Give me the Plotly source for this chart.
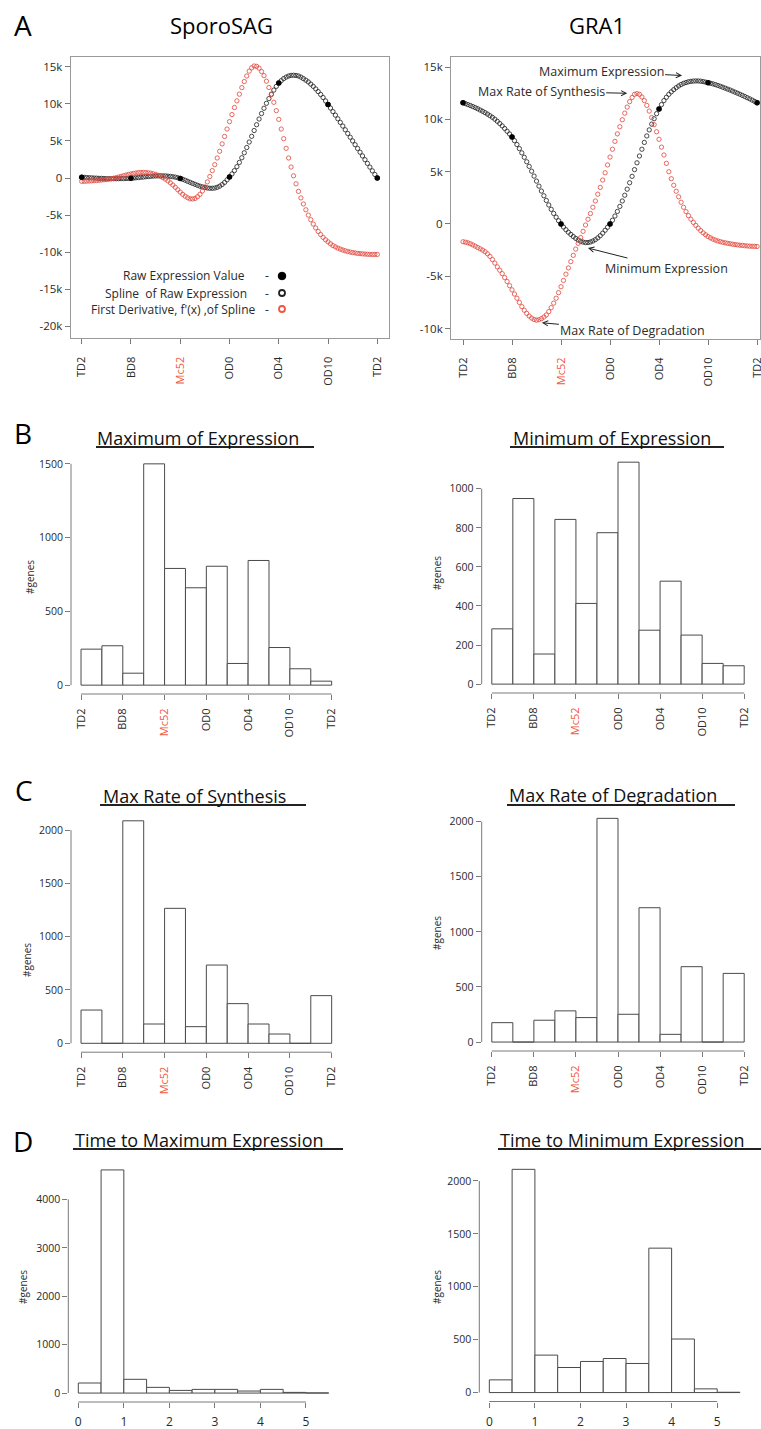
import numpy as np
import plotly.graph_objects as go

W, H = 761, 1429
FONT = "Open Sans"

# ---------------- data ----------------
stage_labels = ["TD2", "BD8", "Mc52", "OD0", "OD4", "OD10", "TD2"]
stage_pos = [0, 1, 2, 3, 4, 5, 6]
spline_t = np.round(np.arange(121) * 0.05, 3)  # sampling grid of the spline (stage units)

sporo_raw_k = [0.10, -0.03, -0.05, 0.15, 12.80, 9.90, 0.00]
sporo_spline_k = [
    0.10, 0.08, 0.06, 0.04, 0.02, 0.00, -0.02, -0.04, -0.05, -0.07,
    -0.08, -0.09, -0.09, -0.09, -0.09, -0.09, -0.08, -0.07, -0.06, -0.05,
    -0.03, 0.00, 0.03, 0.06, 0.10, 0.13, 0.17, 0.20, 0.23, 0.26,
    0.28, 0.29, 0.30, 0.29, 0.28, 0.25, 0.22, 0.17, 0.12, 0.04,
    -0.05, -0.17, -0.30, -0.44, -0.58, -0.72, -0.85, -0.98, -1.10, -1.20,
    -1.28, -1.34, -1.38, -1.38, -1.35, -1.25, -1.10, -0.88, -0.60, -0.25,
    0.15, 0.55, 1.00, 1.53, 2.10, 2.73, 3.40, 4.11, 4.85, 5.62,
    6.40, 7.18, 7.95, 8.69, 9.40, 10.07, 10.70, 11.30, 11.85, 12.35,
    12.80, 13.12, 13.40, 13.60, 13.75, 13.83, 13.85, 13.82, 13.75, 13.60,
    13.40, 13.19, 12.95, 12.66, 12.35, 12.01, 11.65, 11.26, 10.85, 10.39,
    9.90, 9.43, 8.95, 8.47, 7.98, 7.49, 7.00, 6.50, 6.00, 5.50,
    5.00, 4.49, 3.98, 3.48, 2.98, 2.47, 1.97, 1.47, 0.97, 0.48,
    0.00]
sporo_deriv_k = [
    -0.45, -0.44, -0.42, -0.40, -0.38, -0.36, -0.33, -0.30, -0.27, -0.24,
    -0.20, -0.15, -0.10, -0.03, 0.05, 0.13, 0.22, 0.31, 0.40, 0.48,
    0.55, 0.62, 0.68, 0.72, 0.75, 0.75, 0.74, 0.70, 0.65, 0.57,
    0.48, 0.36, 0.22, 0.04, -0.15, -0.39, -0.65, -0.94, -1.25, -1.58,
    -1.90, -2.20, -2.45, -2.66, -2.80, -2.82, -2.75, -2.52, -2.20, -1.75,
    -1.20, -0.52, 0.20, 1.00, 1.80, 2.70, 3.60, 4.60, 5.60, 6.60,
    7.60, 8.55, 9.50, 10.40, 11.30, 12.18, 13.00, 13.75, 14.40, 14.85,
    15.10, 15.05, 14.80, 14.35, 13.80, 13.05, 12.20, 11.25, 10.20, 9.08,
    7.90, 6.60, 5.30, 4.00, 2.70, 1.48, 0.30, -0.78, -1.80, -2.68,
    -3.50, -4.28, -5.00, -5.62, -6.20, -6.72, -7.20, -7.62, -8.00, -8.32,
    -8.60, -8.86, -9.10, -9.28, -9.45, -9.58, -9.70, -9.81, -9.90, -9.98,
    -10.05, -10.10, -10.15, -10.19, -10.22, -10.25, -10.27, -10.29, -10.30, -10.30,
    -10.30]

gra1_raw_k = [11.60, 8.33, 0.00, 0.00, 11.00, 13.52, 11.60]
gra1_spline_k = [
    11.60, 11.51, 11.42, 11.33, 11.23, 11.13, 11.02, 10.90, 10.78, 10.65,
    10.51, 10.36, 10.20, 10.02, 9.82, 9.61, 9.38, 9.13, 8.87, 8.61,
    8.33, 7.97, 7.60, 7.21, 6.80, 6.38, 5.95, 5.51, 5.05, 4.58,
    4.10, 3.62, 3.15, 2.70, 2.25, 1.82, 1.40, 1.01, 0.65, 0.31,
    0.00, -0.29, -0.55, -0.79, -1.00, -1.20, -1.38, -1.53, -1.65, -1.73,
    -1.78, -1.77, -1.72, -1.63, -1.50, -1.33, -1.12, -0.88, -0.60, -0.31,
    0.00, 0.36, 0.76, 1.20, 1.68, 2.20, 2.75, 3.33, 3.94, 4.56,
    5.20, 5.85, 6.50, 7.15, 7.80, 8.42, 9.00, 9.55, 10.07, 10.55,
    11.00, 11.42, 11.80, 12.12, 12.40, 12.64, 12.85, 13.04, 13.20, 13.34,
    13.45, 13.53, 13.60, 13.64, 13.67, 13.68, 13.68, 13.66, 13.62, 13.57,
    13.52, 13.46, 13.40, 13.33, 13.25, 13.17, 13.08, 12.99, 12.90, 12.81,
    12.71, 12.61, 12.51, 12.41, 12.30, 12.19, 12.08, 11.97, 11.85, 11.73,
    11.60]
gra1_deriv_k = [
    -1.70, -1.74, -1.80, -1.89, -2.00, -2.12, -2.25, -2.37, -2.50, -2.65,
    -2.85, -3.10, -3.40, -3.74, -4.10, -4.42, -4.75, -5.12, -5.50, -5.90,
    -6.30, -6.70, -7.10, -7.50, -7.90, -8.25, -8.55, -8.80, -9.00, -9.13,
    -9.20, -9.15, -9.05, -8.90, -8.70, -8.38, -8.00, -7.57, -7.10, -6.57,
    -6.00, -5.40, -4.80, -4.20, -3.60, -3.00, -2.40, -1.85, -1.30, -0.70,
    -0.10, 0.45, 1.00, 1.60, 2.20, 2.85, 3.50, 4.20, 4.90, 5.65,
    6.40, 7.15, 7.90, 8.62, 9.30, 9.97, 10.60, 11.18, 11.70, 12.10,
    12.40, 12.47, 12.40, 12.15, 11.80, 11.34, 10.80, 10.18, 9.50, 8.82,
    8.10, 7.35, 6.60, 5.80, 5.00, 4.33, 3.70, 3.13, 2.60, 2.08,
    1.60, 1.18, 0.80, 0.46, 0.15, -0.13, -0.40, -0.63, -0.85, -1.03,
    -1.20, -1.33, -1.45, -1.54, -1.62, -1.69, -1.75, -1.80, -1.85, -1.89,
    -1.93, -1.97, -2.00, -2.03, -2.05, -2.08, -2.10, -2.12, -2.13, -2.14,
    -2.15]

sporo_yticks = [15, 10, 5, 0, -5, -10, -15, -20]
gra1_yticks = [15, 10, 5, 0, -5, -10]

# histograms over the developmental cycle (12 bins, 2 per stage interval)
max_expr_counts = [244, 267, 81, 1500, 791, 660, 806, 147, 845, 255, 111, 27]
min_expr_counts = [283, 950, 154, 843, 413, 775, 1136, 276, 527, 251, 106, 94]
syn_rate_counts = [312, 0, 2087, 181, 1266, 156, 734, 372, 181, 87, 0, 447]
deg_rate_counts = [176, 0, 198, 283, 222, 2030, 252, 1219, 70, 684, 0, 623]
stage_hist_ticks = [0, 2, 4, 6, 8, 10, 12]

# histograms of time to max / min (bin width 0.5)
time_bin_width = 0.5
time_max_counts = [208, 4609, 284, 118, 55, 76, 76, 42, 76, 14, 3]
time_min_counts = [120, 2110, 354, 237, 294, 322, 275, 1365, 506, 35, 3]
time_ticks = [0, 1, 2, 3, 4, 5]

hist_yticks = {
    "max": [0, 500, 1000, 1500],
    "min": [0, 200, 400, 600, 800, 1000],
    "syn": [0, 500, 1000, 1500, 2000],
    "deg": [0, 500, 1000, 1500, 2000],
    "tmax": [0, 1000, 2000, 3000, 4000],
    "tmin": [0, 500, 1000, 1500, 2000],
}

# ---------------- helpers ----------------
RED = "#f0573c"
SPLINE_RED = "rgba(228,70,60,0.8)"
SPLINE_BLACK = "rgba(40,40,40,0.85)"
AXIS_GREY = "#7a7a7a"
TXT = "#2a2a2a"


def dx(l, r):
    return [l / W, r / W]


def dy(t, b):
    return [1 - b / H, 1 - t / H]


def px(x):
    return x / W


def py(y):
    return 1 - y / H


def label(text, x, y, size, color=TXT, xanchor="center", **kw):
    return dict(text=text, x=px(x), y=py(y), xref="paper", yref="paper", showarrow=False,
                xanchor=xanchor, yanchor="middle", font=dict(size=size, color=color), **kw)


stage_ticktext = [f"<span style='color:{RED}'>{s}</span>" if s == "Mc52" else s
                  for s in stage_labels]

fig = go.Figure()
layout = dict(width=W, height=H, margin=dict(l=0, r=0, t=0, b=0, pad=0),
              paper_bgcolor="white", plot_bgcolor="white", showlegend=False,
              font=dict(family=FONT, color=TXT), template="none")
shapes = []
annotations = []

# ---------------- panel A ----------------
a_panels = [
    ("", sporo_spline_k, sporo_deriv_k, sporo_raw_k, sporo_yticks,
     dx(70.7, 389.3), dy(56.7, 338.3), [-0.224, 6.244], [-21.6, 16.35]),
    ("2", gra1_spline_k, gra1_deriv_k, gra1_raw_k, gra1_yticks,
     dx(451, 760), dy(56.7, 339), [-0.245, 6.06], [-11.0, 16.0]),
]
for suf, spl, der, raw, yt, xd, yd, xr, yr in a_panels:
    xa, ya = "x" + suf, "y" + suf
    fig.add_trace(go.Scatter(x=spline_t, y=spl, mode="markers", xaxis=xa, yaxis=ya,
                             marker=dict(symbol="circle-open", size=4.3, color=SPLINE_BLACK,
                                         line=dict(width=1, color=SPLINE_BLACK))))
    fig.add_trace(go.Scatter(x=spline_t, y=der, mode="markers", xaxis=xa, yaxis=ya,
                             marker=dict(symbol="circle-open", size=4.3, color=SPLINE_RED,
                                         line=dict(width=1, color=SPLINE_RED))))
    fig.add_trace(go.Scatter(x=stage_pos, y=raw, mode="markers", xaxis=xa, yaxis=ya,
                             marker=dict(symbol="circle", size=5.5, color="black")))
    layout["xaxis" + suf] = dict(domain=xd, range=xr, anchor=ya, tickvals=stage_pos,
                                 ticktext=stage_ticktext, tickangle=-90, ticks="outside",
                                 ticklen=5, tickcolor=AXIS_GREY, showline=True, mirror=True,
                                 linecolor="#9a9a9a", linewidth=1, showgrid=False,
                                 zeroline=False, tickfont=dict(size=11, color=TXT),
                                 ticklabelstandoff=8, ticklabeloverflow="allow",
                                 automargin=False)
    layout["yaxis" + suf] = dict(domain=yd, range=yr, anchor=xa, tickvals=yt,
                                 ticktext=[("0" if v == 0 else f"{v}k") for v in yt],
                                 ticks="outside", ticklen=5, tickcolor=AXIS_GREY,
                                 showline=True, mirror=True, linecolor="#9a9a9a",
                                 linewidth=1, showgrid=False, zeroline=False,
                                 tickfont=dict(size=11.5, color=TXT),
                                 ticklabeloverflow="allow", automargin=False)

# titles
annotations += [
    label("A", 23, 25, 28, "black"),
    label("SporoSAG", 221, 25, 22, "black"),
    label("GRA1", 597, 25, 22, "black"),
]

# legend (SporoSAG panel)
legend_rows = [("Raw Expression Value", 247, 276), ("Spline  of Raw Expression", 249, 293),
               ("First Derivative, f'(x) ,of Spline", 258, 309)]
for txt, xr_, yy in legend_rows:
    annotations.append(label(txt, xr_, yy, 12, xanchor="right"))
    annotations.append(label("-", 267, yy, 12))


def circ(cx, cy, r, fill, line, lw):
    return dict(type="circle", xref="paper", yref="paper", x0=px(cx - r), x1=px(cx + r),
                y0=py(cy + r), y1=py(cy - r), fillcolor=fill, line=dict(color=line, width=lw))


shapes += [circ(282, 276, 3.8, "black", "black", 1),
           circ(282, 293, 3.0, "rgba(0,0,0,0)", "#222", 1.8),
           circ(282, 309, 3.0, "rgba(0,0,0,0)", RED, 1.8)]

# GRA1 arrows
arrow_notes = [("Maximum Expression", 4.47, 14.2, -81, -4),
               ("Max Rate of Synthesis", 3.35, 12.5, -86, -2),
               ("Minimum Expression", 2.55, -2.3, 79, 20),
               ("Max Rate of Degradation", 1.61, -9.45, 91, 8)]
for txt, x, y, ax, ay in arrow_notes:
    annotations.append(dict(text=txt, x=x, y=y, xref="x2", yref="y2", ax=ax, ay=ay,
                            showarrow=True, arrowhead=5, arrowsize=1, arrowwidth=1,
                            arrowcolor="#222", font=dict(size=12.5, color=TXT)))

# ---------------- histograms ----------------
hists = [
    (3, max_expr_counts, "max", "Maximum of Expression", (71, 341.7), (455, 694), "stage",
     (198, 438), (96, 314, 447), (30, 577)),
    (4, min_expr_counts, "min", "Minimum of Expression", (481.7, 754.3), (453.3, 693), "stage",
     (612, 438), (510, 724, 447), (437, 573)),
    (5, syn_rate_counts, "syn", "Max Rate of Synthesis", (71, 341.7), (811.9, 1052.2), "stage",
     (194, 796), (100, 306, 805), (27, 960)),
    (6, deg_rate_counts, "deg", "Max Rate of Degradation", (481.7, 754.3), (809.4, 1051), "stage",
     (613, 795), (507, 735, 805), (437, 933)),
    (7, time_max_counts, "tmax", "Time to Maximum Expression", (68.3, 338.7), (1161, 1402), "time",
     (199, 1140), (73, 343, 1149), (23, 1287)),
    (8, time_min_counts, "tmin", "Time to Minimum Expression", (479.3, 750), (1160.4, 1401.5), "time",
     (622, 1140), (498, 761, 1149), (437, 1287)),
]

for idx, counts, key, title, xdp, ydp, kind, tpos, uline, ylab in hists:
    xa, ya = f"x{idx}", f"y{idx}"
    if kind == "stage":
        width = 1.0
        xt, xtt, tang = stage_hist_ticks, stage_ticktext, -90
    else:
        width = time_bin_width
        xt, xtt, tang = time_ticks, [str(v) for v in time_ticks], 0
    centers = np.arange(len(counts)) * width + width / 2
    nb = len(counts) * width
    pad = 0.04 * nb
    m = max(counts)
    fig.add_trace(go.Bar(x=centers, y=counts, width=width, xaxis=xa, yaxis=ya,
                         marker=dict(color="white", line=dict(color="#4a4a4a", width=1))))
    yt = hist_yticks[key]
    layout["xaxis" + str(idx)] = dict(domain=dx(*xdp), range=[-pad, nb + pad], anchor=ya,
                                      tickvals=xt, ticktext=xtt, tickangle=tang,
                                      ticks="outside", ticklen=5, tickcolor=AXIS_GREY,
                                      showline=False, showgrid=False, zeroline=False,
                                      tickfont=dict(size=11 if kind == "stage" else 12, color=TXT),
                                      ticklabelstandoff=4, ticklabeloverflow="allow",
                                      automargin=False)
    layout["yaxis" + str(idx)] = dict(domain=dy(*ydp), range=[-0.04 * m, 1.04 * m], anchor=xa,
                                      tickvals=yt, ticks="outside", ticklen=5,
                                      tickcolor=AXIS_GREY, showline=False, showgrid=False,
                                      zeroline=False, tickfont=dict(size=10.5, color=TXT),
                                      ticklabeloverflow="allow", automargin=False)
    shapes.append(dict(type="line", xref=f"{xa} domain", yref=ya, x0=0, x1=0,
                       y0=yt[0], y1=yt[-1], line=dict(color=AXIS_GREY, width=1)))
    shapes.append(dict(type="line", xref=xa, yref=f"{ya} domain", x0=xt[0], x1=xt[-1],
                       y0=0, y1=0, line=dict(color=AXIS_GREY, width=1)))
    annotations.append(label(title, tpos[0], tpos[1], 18, "#111"))
    shapes.append(dict(type="line", xref="paper", yref="paper", x0=px(uline[0]),
                       x1=px(uline[1]), y0=py(uline[2]), y1=py(uline[2]),
                       line=dict(color="#222", width=2)))
    annotations.append(label("#genes", ylab[0], ylab[1], 10, textangle=-90))

for letter, (lx, ly) in zip(["B", "C", "D"], [(23, 433), (24, 790), (23, 1141)]):
    annotations.append(label(letter, lx, ly, 28, "black"))

layout["shapes"] = shapes
layout["annotations"] = annotations
fig.update_layout(**layout)
fig.write_html("out.html", config={"displayModeBar": False},
               post_script="document.body.style.margin='0px';"
                           "document.documentElement.style.overflow='hidden';")
